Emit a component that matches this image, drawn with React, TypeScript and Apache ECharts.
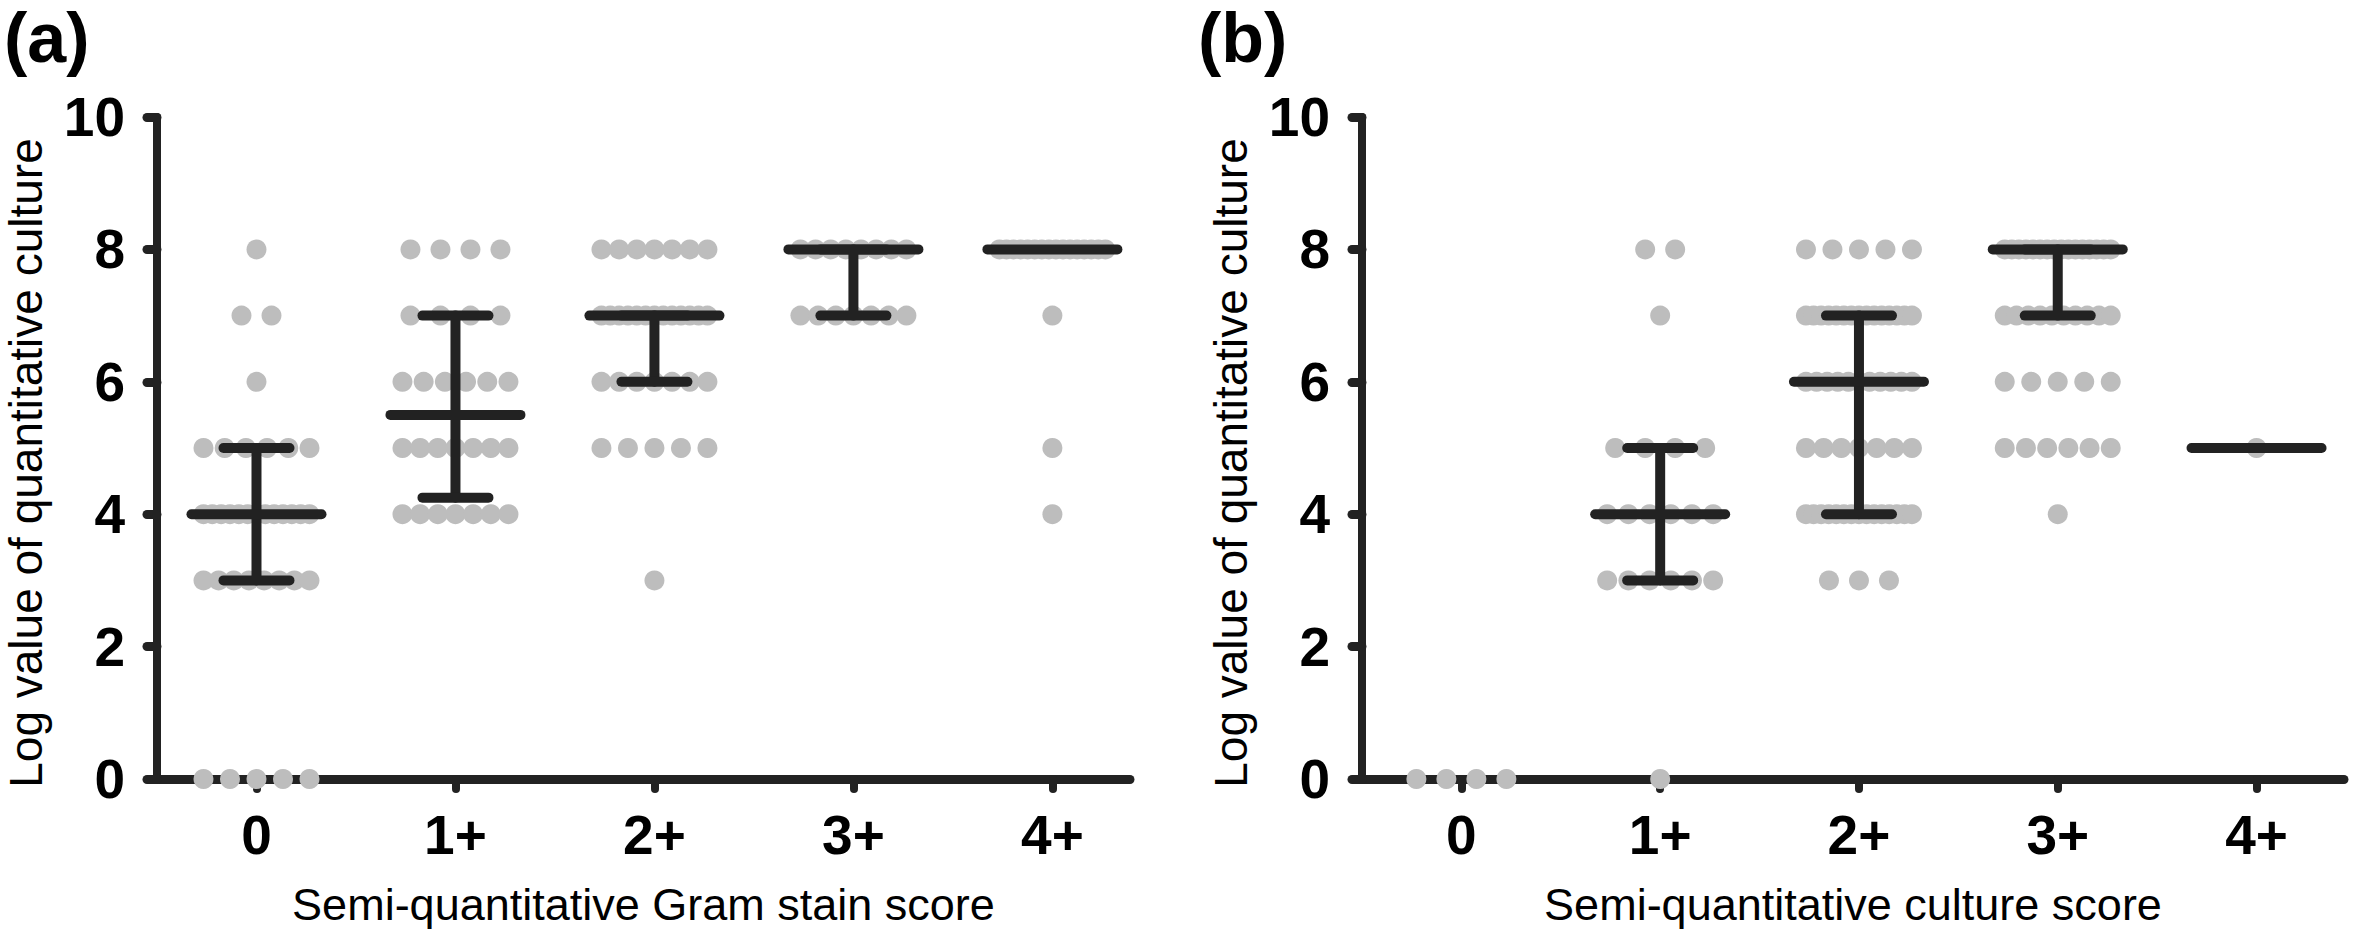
import React, { useEffect, useRef } from "react";
import * as echarts from "echarts";

// ---------- data ----------
const categories = ["0", "1+", "2+", "3+", "4+"];
const categoryTicks = [0, 1, 2, 3, 4];
const yAxisTitle = "Log value of quantitative culture";

// dot rows: [category index, log value, number of specimens]
const gramDots = [
  [0, 8, 1], [0, 7, 2], [0, 6, 1], [0, 5, 6], [0, 4, 13], [0, 3, 8], [0, 0, 5],
  [1, 8, 4], [1, 7, 4], [1, 6, 6], [1, 5, 7], [1, 4, 7],
  [2, 8, 7], [2, 7, 13], [2, 6, 7], [2, 5, 5], [2, 3, 1],
  [3, 8, 8], [3, 7, 7],
  [4, 8, 16], [4, 7, 1], [4, 5, 1], [4, 4, 1],
];
const gramMedian = [4, 5.5, 7, 8, 8];
const gramQ1 = [3, 4.25, 6, 7, 8];
const gramQ3 = [5, 7, 7, 8, 8];

const cultureDots = [
  [0, 0, 4],
  [1, 8, 2], [1, 7, 1], [1, 5, 4], [1, 4, 6], [1, 3, 6], [1, 0, 1],
  [2, 8, 5], [2, 7, 15], [2, 6, 11], [2, 5, 7], [2, 4, 15], [2, 3, 3],
  [3, 8, 16], [3, 7, 10], [3, 6, 5], [3, 5, 6], [3, 4, 1],
  [4, 5, 1],
];
const cultureMedian = [null, 4, 6, 8, 5];
const cultureQ1 = [null, 3, 4, 7, 5];
const cultureQ3 = [null, 5, 7, 8, 5];

// ---------- layout ----------
const X_MIN = -0.5;
const X_MAX_A = 4.39;
const X_MAX_B = 4.44;
const GRID_A = { left: 157, top: 117, width: 973, height: 664 };
const GRID_B = { left: 1362, top: 117, width: 982, height: 664 };
const DOT_ROW_WIDTH = 106;
const DOT_MAX_GAP = 30;
const INK = "#222222";
const DOT = "#bdbdbd";
const FONT = "'Liberation Sans', Arial, sans-serif";

function swarm(rows: number[][], unitPx: number) {
  const pts: number[][] = [];
  rows.forEach(([cat, val, n]) => {
    const gap = n > 1 ? Math.min(DOT_MAX_GAP, DOT_ROW_WIDTH / (n - 1)) : 0;
    for (let i = 0; i < n; i++) {
      pts.push([cat + ((i - (n - 1) / 2) * gap) / unitPx, val]);
    }
  });
  return pts;
}

function barData(med: (number | null)[], q1: (number | null)[], q3: (number | null)[]) {
  const out: number[][] = [];
  med.forEach((m, i) => {
    if (m !== null) out.push([i, m as number, q1[i] as number, q3[i] as number]);
  });
  return out;
}

const renderBar = (params: any, api: any) => {
  const x = api.value(0);
  const med = api.value(1);
  const lo = api.value(2);
  const hi = api.value(3);
  const pm = api.coord([x, med]);
  const pl = api.coord([x, lo]);
  const ph = api.coord([x, hi]);
  const style = { stroke: INK, lineWidth: 10, lineCap: "round", fill: "none" };
  const children: any[] = [];
  if (lo !== hi) {
    children.push({ type: "line", shape: { x1: pl[0], y1: pl[1], x2: ph[0], y2: ph[1] }, style });
    children.push({ type: "line", shape: { x1: pl[0] - 33, y1: pl[1], x2: pl[0] + 33, y2: pl[1] }, style });
    children.push({ type: "line", shape: { x1: ph[0] - 33, y1: ph[1], x2: ph[0] + 33, y2: ph[1] }, style });
  }
  children.push({ type: "line", shape: { x1: pm[0] - 65, y1: pm[1], x2: pm[0] + 65, y2: pm[1] }, style });
  return { type: "group", children };
};

function xAxis(gridIndex: number, max: number, name: string) {
  return {
    type: "value",
    gridIndex,
    min: X_MIN,
    max,
    name,
    nameLocation: "middle",
    nameGap: 103,
    nameTextStyle: { fontSize: 45, fontFamily: FONT, color: "#000" },
    splitLine: { show: false },
    axisLine: { show: true, onZero: false, lineStyle: { color: INK, width: 9 } },
    axisTick: { show: true, customValues: categoryTicks, length: 10, lineStyle: { color: INK, width: 8, cap: "round" } },
    axisLabel: {
      customValues: categoryTicks,
      formatter: (v: number) => categories[Math.round(v)],
      fontSize: 55,
      fontWeight: "bold",
      fontFamily: FONT,
      color: "#000",
      margin: 28,
    },
  };
}

function yAxis(gridIndex: number) {
  return {
    type: "value",
    gridIndex,
    min: 0,
    max: 10,
    interval: 2,
    splitLine: { show: false },
    axisLine: { show: true, onZero: false, lineStyle: { color: INK, width: 8 } },
    axisTick: { show: true, length: 10, lineStyle: { color: INK, width: 9, cap: "round" } },
    axisLabel: { fontSize: 55, fontWeight: "bold", fontFamily: FONT, color: "#000", margin: 32 },
  };
}

function yTitle(x: number) {
  return {
    type: "text",
    x,
    y: 463,
    rotation: Math.PI / 2,
    style: { text: yAxisTitle, font: `46px ${FONT}`, fill: "#000", align: "center", verticalAlign: "middle" },
  };
}

function panelLabel(text: string, x: number) {
  return {
    type: "text",
    x,
    y: 3,
    style: { text, font: `bold 70px ${FONT}`, fill: "#000", align: "left", verticalAlign: "top" },
  };
}

export default function App() {
  const ref = useRef<HTMLDivElement>(null);
  useEffect(() => {
    if (!ref.current) return;
    const chart = echarts.init(ref.current, undefined, { renderer: "svg" });
    const unitA = GRID_A.width / (X_MAX_A - X_MIN);
    const unitB = GRID_B.width / (X_MAX_B - X_MIN);
    chart.setOption({
      animation: false,
      backgroundColor: "#ffffff",
      grid: [GRID_A, GRID_B],
      xAxis: [
        xAxis(0, X_MAX_A, "Semi-quantitative Gram stain score"),
        xAxis(1, X_MAX_B, "Semi-quantitative culture score"),
      ],
      yAxis: [yAxis(0), yAxis(1)],
      graphic: [panelLabel("(a)", 4), panelLabel("(b)", 1198), yTitle(26), yTitle(1231)],
      series: [
        {
          type: "scatter", xAxisIndex: 0, yAxisIndex: 0, symbolSize: 20,
          itemStyle: { color: DOT, opacity: 1 }, data: swarm(gramDots, unitA), z: 2,
        },
        {
          type: "scatter", xAxisIndex: 1, yAxisIndex: 1, symbolSize: 20,
          itemStyle: { color: DOT, opacity: 1 }, data: swarm(cultureDots, unitB), z: 2,
        },
        {
          type: "custom", xAxisIndex: 0, yAxisIndex: 0, renderItem: renderBar, z: 5,
          encode: { x: 0, y: 1 }, data: barData(gramMedian, gramQ1, gramQ3),
        },
        {
          type: "custom", xAxisIndex: 1, yAxisIndex: 1, renderItem: renderBar, z: 5,
          encode: { x: 0, y: 1 }, data: barData(cultureMedian, cultureQ1, cultureQ3),
        },
      ],
    });
    return () => chart.dispose();
  }, []);
  return (
    <div
      ref={ref}
      style={{ position: "absolute", left: 0, top: 0, width: 2362, height: 932, background: "#fff" }}
    />
  );
}
